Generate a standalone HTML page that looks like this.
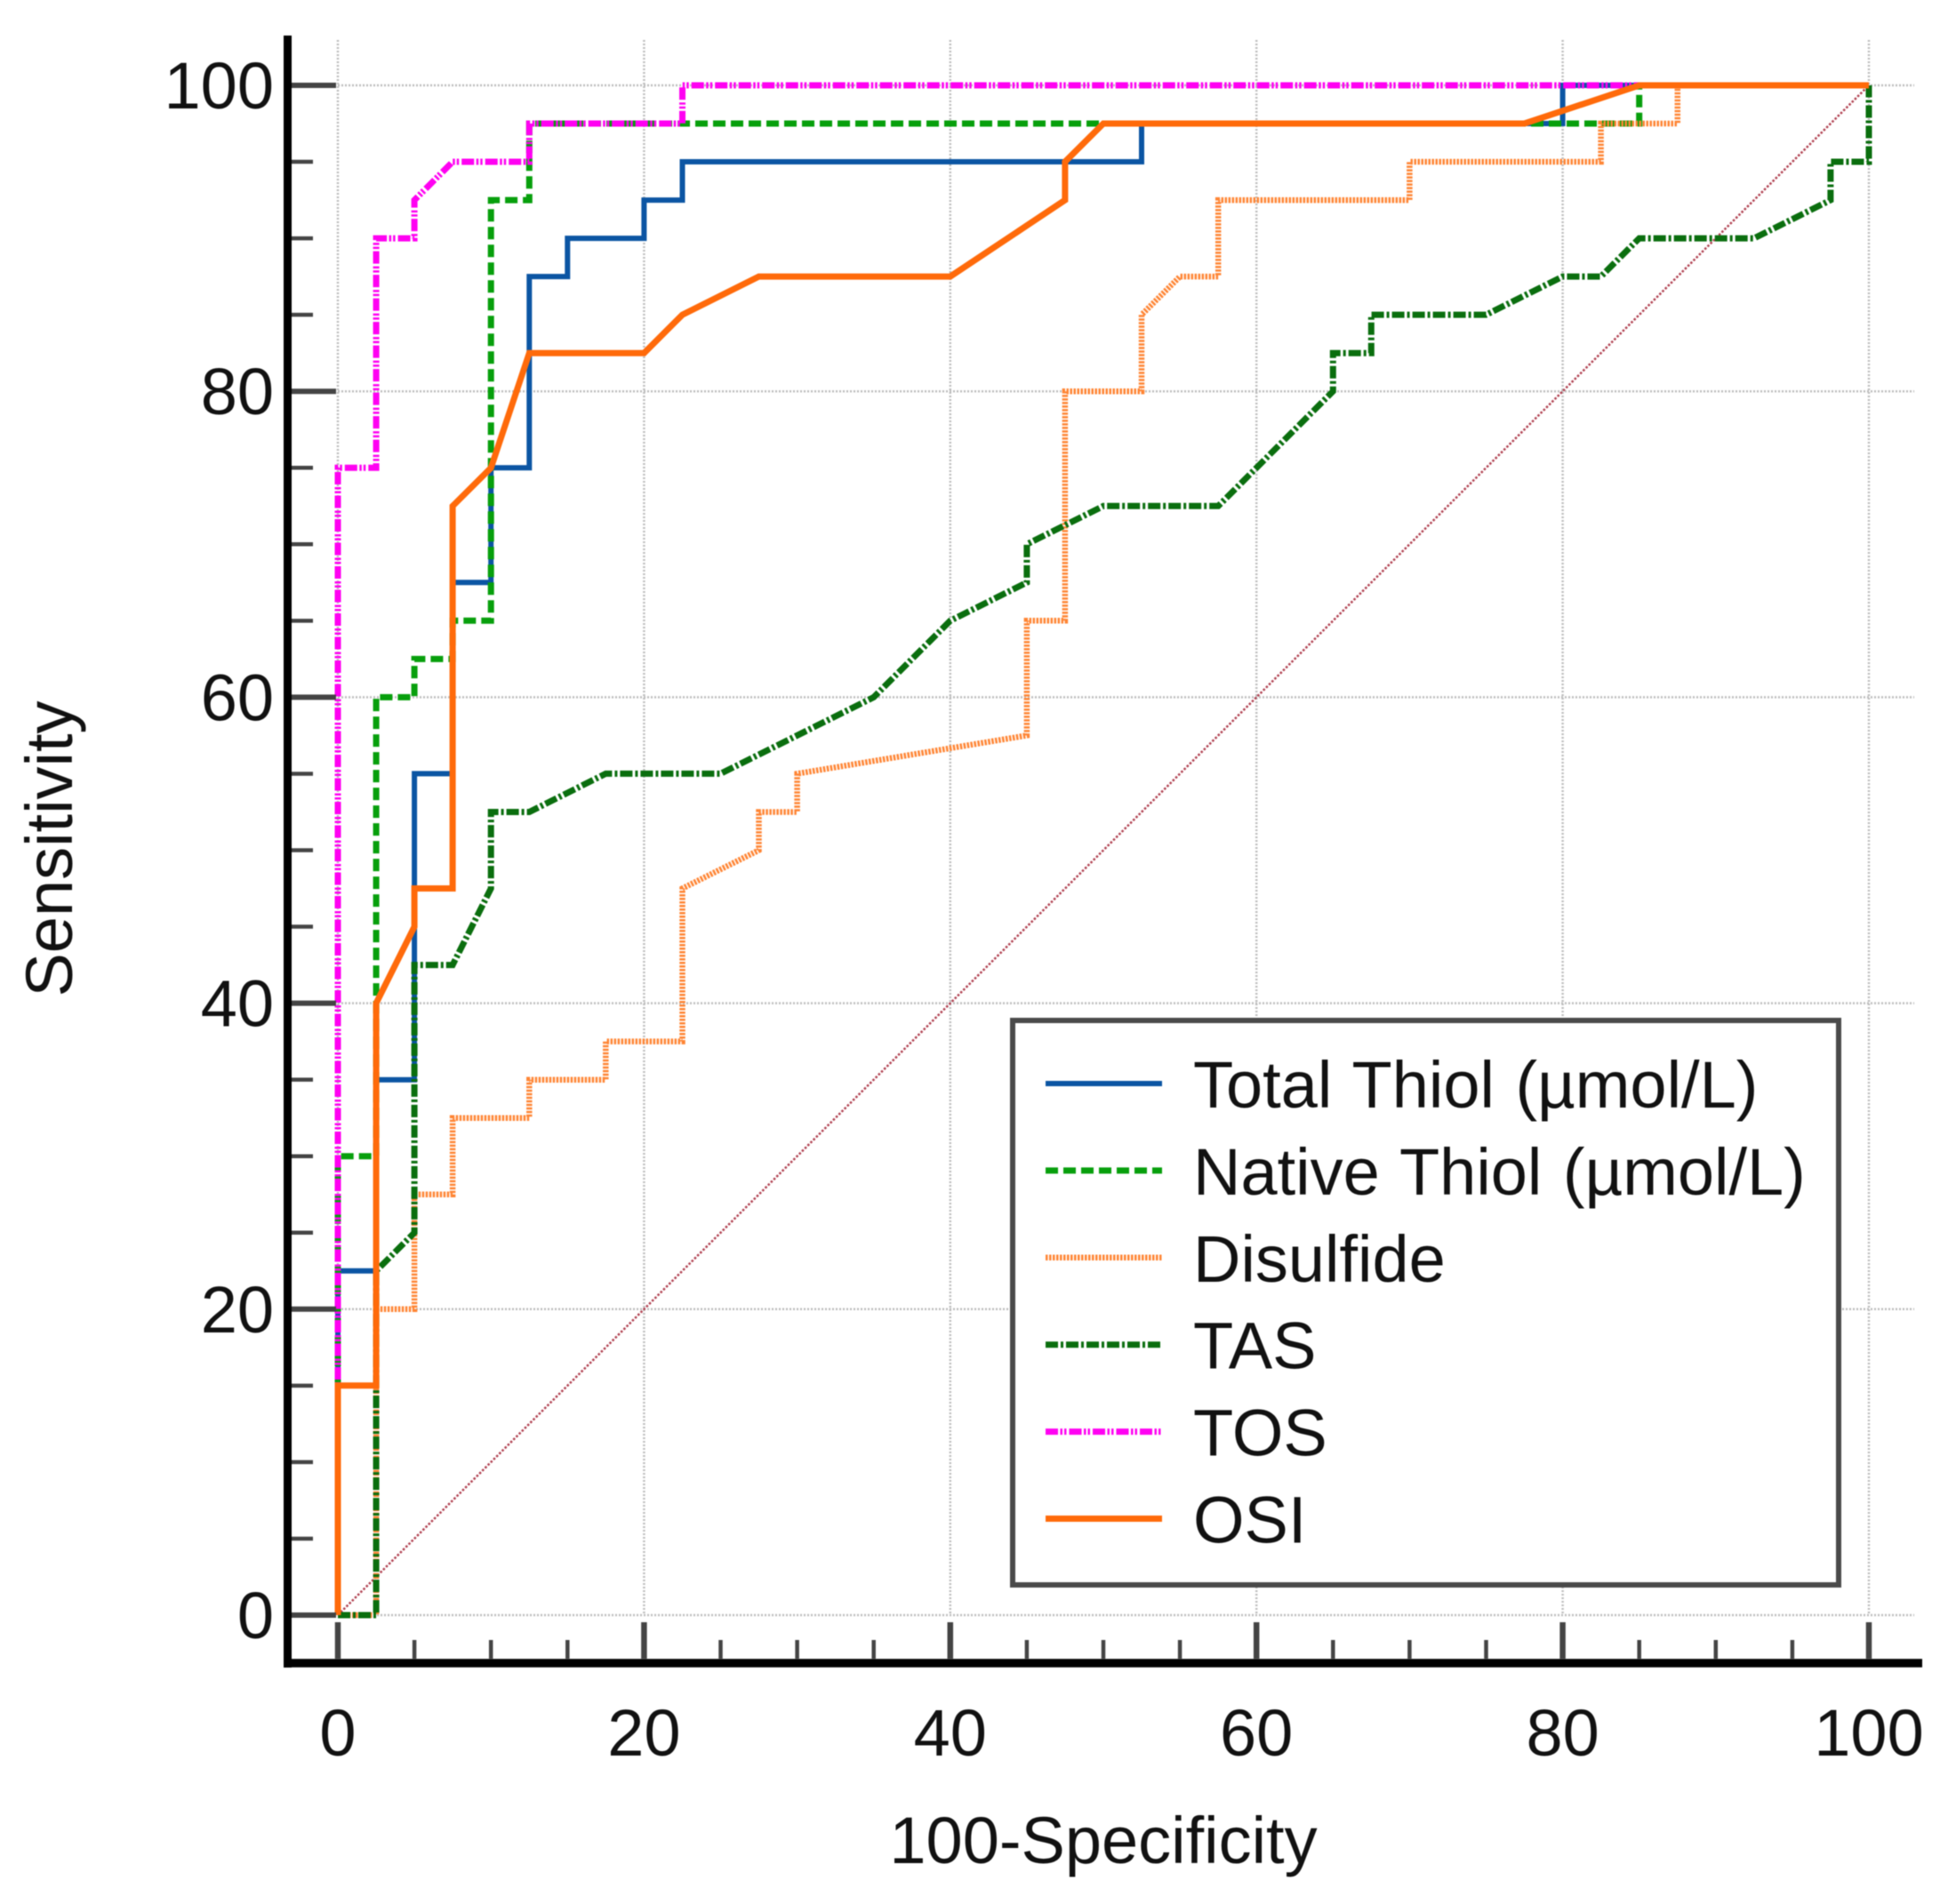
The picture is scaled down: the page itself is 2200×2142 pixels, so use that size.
<!DOCTYPE html>
<html lang="en">
<head>
<meta charset="utf-8">
<title>ROC curves</title>
<style>
  html, body { margin: 0; padding: 0; background: #fff; }
  svg { display: block; font-family: "Liberation Sans", Arial, sans-serif; filter: blur(0.6px); }
  text { fill: #111; }
</style>
</head>
<body>
<svg id="chart" xmlns="http://www.w3.org/2000/svg" width="2200" height="2142" viewBox="0 0 2200 2142">
  <rect x="0" y="0" width="2200" height="2142" fill="#ffffff"/>
  <g id="grid"></g>
  <g id="series"></g>
  <g id="axes"></g>
  <text x="1241" y="2096" font-size="74" text-anchor="middle">100-Specificity</text>
  <text transform="translate(81 955) rotate(-90)" font-size="74" text-anchor="middle">Sensitivity</text>
  <g id="legend"></g>
</svg>
<script>
const xTickLabels = [0, 20, 40, 60, 80, 100];
const yTickLabels = [0, 20, 40, 60, 80, 100];
const minorTickValues = [5, 10, 15, 25, 30, 35, 45, 50, 55, 65, 70, 75, 85, 90, 95];

const seriesNames = ['Total Thiol (µmol/L)', 'Native Thiol (µmol/L)', 'Disulfide', 'TAS', 'TOS', 'OSI'];

const referenceX = [0, 100];
const referenceY = [0, 100];

const totalThiolX = [0, 0, 2.5, 2.5, 5, 5, 7.5, 7.5, 10, 10, 12.5, 12.5, 15, 15, 20, 20, 22.5, 22.5, 52.5, 52.5, 80, 80, 100];
const totalThiolY = [0, 22.5, 22.5, 35, 35, 55, 55, 67.5, 67.5, 75, 75, 87.5, 87.5, 90, 90, 92.5, 92.5, 95, 95, 97.5, 97.5, 100, 100];

const nativeThiolX = [0, 0, 2.5, 2.5, 5, 5, 7.5, 7.5, 10, 10, 12.5, 12.5, 85, 85, 100];
const nativeThiolY = [0, 30, 30, 60, 60, 62.5, 62.5, 65, 65, 92.5, 92.5, 97.5, 97.5, 100, 100];

const disulfideX = [0, 2.5, 2.5, 5, 5, 7.5, 7.5, 12.5, 12.5, 17.5, 17.5, 22.5, 22.5, 27.5, 27.5, 30, 30, 45, 45, 47.5, 47.5, 52.5, 52.5, 55, 57.5, 57.5, 70, 70, 82.5, 82.5, 87.5, 87.5, 100];
const disulfideY = [0, 0, 20, 20, 27.5, 27.5, 32.5, 32.5, 35, 35, 37.5, 37.5, 47.5, 50, 52.5, 52.5, 55, 57.5, 65, 65, 80, 80, 85, 87.5, 87.5, 92.5, 92.5, 95, 95, 97.5, 97.5, 100, 100];

const tasX = [0, 2.5, 2.5, 5, 5, 7.5, 10, 10, 12.5, 17.5, 25, 35, 40, 45, 45, 50, 57.5, 65, 65, 67.5, 67.5, 75, 80, 82.5, 85, 92.5, 97.5, 97.5, 100, 100];
const tasY = [0, 0, 22.5, 25, 42.5, 42.5, 47.5, 52.5, 52.5, 55, 55, 60, 65, 67.5, 70, 72.5, 72.5, 80, 82.5, 82.5, 85, 85, 87.5, 87.5, 90, 90, 92.5, 95, 95, 100];

const tosX = [0, 0, 2.5, 2.5, 5, 5, 7.5, 12.5, 12.5, 22.5, 22.5, 100];
const tosY = [0, 75, 75, 90, 90, 92.5, 95, 95, 97.5, 97.5, 100, 100];

const osiX = [0, 0, 2.5, 2.5, 5, 5, 7.5, 7.5, 10, 12.5, 20, 22.5, 27.5, 40, 47.5, 47.5, 50, 77.5, 85, 100];
const osiY = [0, 15, 15, 40, 45, 47.5, 47.5, 72.5, 75, 82.5, 82.5, 85, 87.5, 87.5, 92.5, 95, 97.5, 97.5, 100, 100];

const NS = 'http://www.w3.org/2000/svg';
function xScale(v) { return 380 + v * 17.22; }
function yScale(v) { return 1817 - v * 17.21; }

function make(tag, attrs, parent) {
  const el = document.createElementNS(NS, tag);
  for (const k in attrs) el.setAttribute(k, attrs[k]);
  parent.appendChild(el);
  return el;
}

const gridG = document.getElementById('grid');
const seriesG = document.getElementById('series');
const axesG = document.getElementById('axes');
const legendG = document.getElementById('legend');

/* grid */
xTickLabels.forEach(function (v) {
  const el = make('line', { x1: xScale(v), x2: xScale(v), y1: 45, y2: yScale(0), stroke: '#bcbcbc', 'stroke-width': 2.5, 'stroke-dasharray': '2 2' }, gridG);
  
  
});
yTickLabels.forEach(function (v) {
  const el = make('line', { x1: xScale(0), x2: 2153, y1: yScale(v), y2: yScale(v), stroke: '#bcbcbc', 'stroke-width': 2.5, 'stroke-dasharray': '2 2' }, gridG);
  
  
});

/* series */
const lineStyles = [
  { color: '#0b55a3', width: 6, dash: 'none' },
  { color: '#079f0c', width: 7, dash: '14 6' },
  { color: '#ff8534', width: 6.5, dash: '2.5 1.5' },
  { color: '#0a6e0e', width: 7, dash: '14 3 3 3' },
  { color: '#ff00f2', width: 7, dash: '14 2.5 2.5 2 2.5 3' },
  { color: '#ff6a0a', width: 7, dash: 'none' }
];

function drawSeries(xs, ys, style, name) {
  const pts = xs.map(function (x, i) { return xScale(x).toFixed(1) + ',' + yScale(ys[i]).toFixed(1); }).join(' ');
  const el = make('polyline', { points: pts, fill: 'none', stroke: style.color, 'stroke-width': style.width, 'stroke-dasharray': style.dash, 'stroke-linejoin': 'miter' }, seriesG);
  
  
}

drawSeries(referenceX, referenceY, { color: '#b04050', width: 2.5, dash: '2.5 2' }, 'reference-diagonal');
drawSeries(totalThiolX, totalThiolY, lineStyles[0], 'series-total-thiol');
drawSeries(nativeThiolX, nativeThiolY, lineStyles[1], 'series-native-thiol');
drawSeries(disulfideX, disulfideY, lineStyles[2], 'series-disulfide');
drawSeries(tasX, tasY, lineStyles[3], 'series-tas');
drawSeries(tosX, tosY, lineStyles[4], 'series-tos');
drawSeries(osiX, osiY, lineStyles[5], 'series-osi');

/* axes */
const yAxisLine = make('line', { x1: 323.5, x2: 323.5, y1: 40, y2: 1876, stroke: '#000', 'stroke-width': 9 }, axesG);


const xAxisLine = make('line', { x1: 319, x2: 2162, y1: 1871, y2: 1871, stroke: '#000', 'stroke-width': 9.5 }, axesG);



yTickLabels.forEach(function (v) {
  const t = make('line', { x1: 328, x2: 378, y1: yScale(v), y2: yScale(v), stroke: '#444', 'stroke-width': 6 }, axesG);
  
  
  const l = make('text', { x: 308, y: yScale(v) + 26, 'font-size': 74, 'text-anchor': 'end' }, axesG);
  l.textContent = String(v);
  
  
});
xTickLabels.forEach(function (v) {
  const t = make('line', { x1: xScale(v), x2: xScale(v), y1: 1825, y2: 1866, stroke: '#444', 'stroke-width': 6.5 }, axesG);
  
  
  const l = make('text', { x: xScale(v), y: 1975, 'font-size': 74, 'text-anchor': 'middle' }, axesG);
  l.textContent = String(v);
  
  
});
minorTickValues.forEach(function (v) {
  const ty = make('line', { x1: 328, x2: 352, y1: yScale(v), y2: yScale(v), stroke: '#444', 'stroke-width': 4.5 }, axesG);
  
  
  const tx = make('line', { x1: xScale(v), x2: xScale(v), y1: 1845, y2: 1866, stroke: '#444', 'stroke-width': 4.5 }, axesG);
  
  
});

/* legend */
const legendBox = make('rect', { x: 1139, y: 1148, width: 929, height: 635, fill: '#fff', stroke: '#4a4a4a', 'stroke-width': 6 }, legendG);



seriesNames.forEach(function (name, i) {
  const y = 1219 + i * 97.9;
  const st = lineStyles[i];
  const sw = make('line', { x1: 1176, x2: 1307, y1: y, y2: y, stroke: st.color, 'stroke-width': st.width, 'stroke-dasharray': st.dash }, legendG);
  
  
  const tx = make('text', { x: 1342, y: y + 27, 'font-size': 74, 'word-spacing': 3 }, legendG);
  tx.textContent = name;
  
  
});
</script>
</body>
</html>
